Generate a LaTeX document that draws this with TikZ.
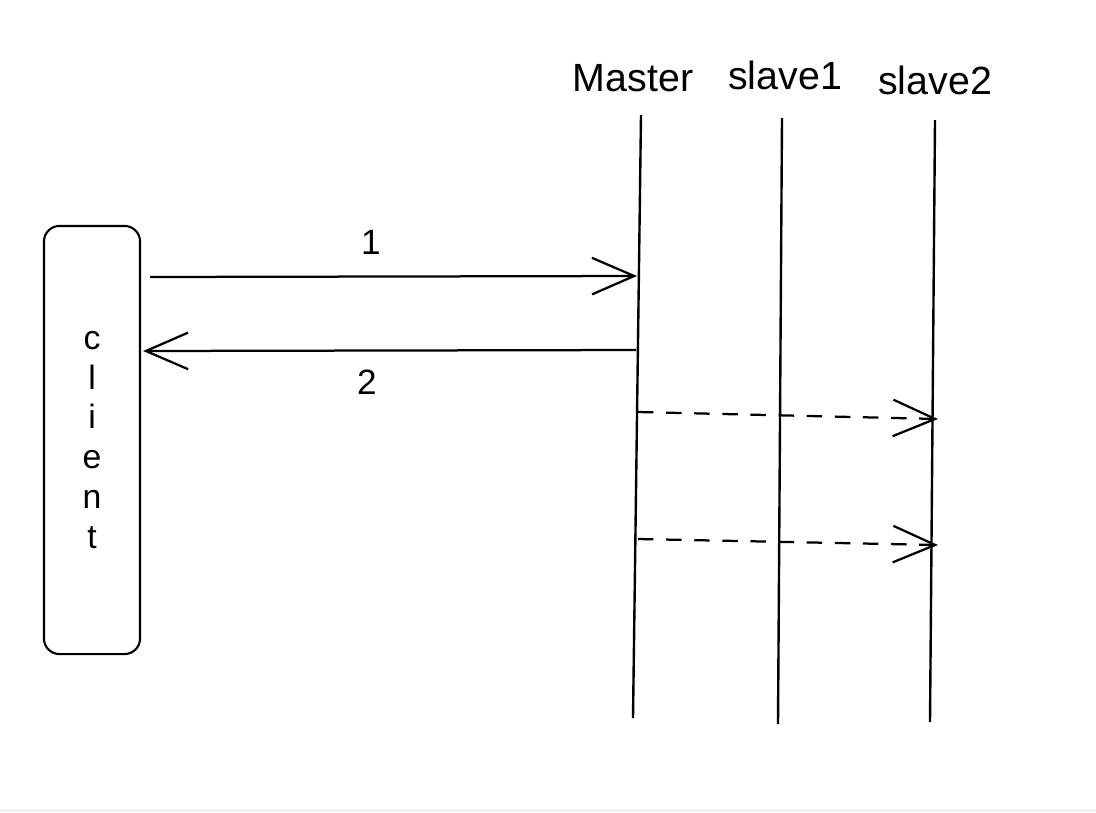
\documentclass[tikz,border=0pt]{standalone}
\usepackage{fontspec}
\setmainfont{Liberation Sans}
\usetikzlibrary{positioning}
\usetikzlibrary{calc}
\usetikzlibrary{arrows.meta}

\tikzset{
	lifeline/.style = {black, line width = 1.7pt},
	message/.style = {black, line width = 1.6pt, -{Straight Barb[length = 30pt, width = 26pt, line width = 1.6pt]}},
	copymsg/.style = {message, dash pattern = on 11pt off 9pt},
	head/.style = {font = \fontsize{28}{32}\selectfont},
	num/.style = {font = \fontsize{25}{30}\selectfont},
}

\begin{document}
\begin{tikzpicture}[x = 0.025cm, y = -0.025cm]
					\useasboundingbox (0, 0) rectangle (1096, 812);
					\fill [black!5] (0, 809) rectangle (1096, 812);
					% client box
					\node (client) at (92, 440) [draw, black, line width = 1.5pt, rounded corners = 11pt, minimum width = 2.4cm, minimum height = 10.7cm, align = center, font = \fontsize{24}{28.4}\selectfont] {c\\l\\i\\e\\n\\t};
					% lifelines
					\coordinate (master top) at (641, 115);
					\coordinate (master bottom) at (633, 718);
					\coordinate (slave1 top) at (782, 118);
					\coordinate (slave1 bottom) at (778, 724);
					\coordinate (slave2 top) at (935, 120);
					\coordinate (slave2 bottom) at (930, 722);
					\draw [lifeline] (master top) -- (master bottom);
					\draw [lifeline] (slave1 top) -- (slave1 bottom);
					\draw [lifeline] (slave2 top) -- (slave2 bottom);
					\node (master) at (633, 78) [head] {Master};
					\node (slave1) at (785, 75) [head] {slave1};
					\node (slave2) at (935, 80) [head] {slave2};
					% messages
					\coordinate (m1) at (637, 276);
					\coordinate (m2) at (636, 350);
					\draw [message] ($(client.east |- m1) + (9, 1)$) -- (m1);
					\draw [message] (m2) -- ($(client.east |- m2) + (2, 1)$);
					\node (one) at (371, 242) [num] {1};
					\node (two) at (367, 382) [num] {2};
					% sync to slaves
					\coordinate (s1 from) at (638, 412);
					\coordinate (s1 to) at (938, 419);
					\coordinate (s2 from) at (638, 539);
					\coordinate (s2 to) at (938, 545);
					\draw [copymsg] (s1 from) -- (s1 to);
					\draw [copymsg] (s2 from) -- (s2 to);
				\end{tikzpicture}
\end{document}
